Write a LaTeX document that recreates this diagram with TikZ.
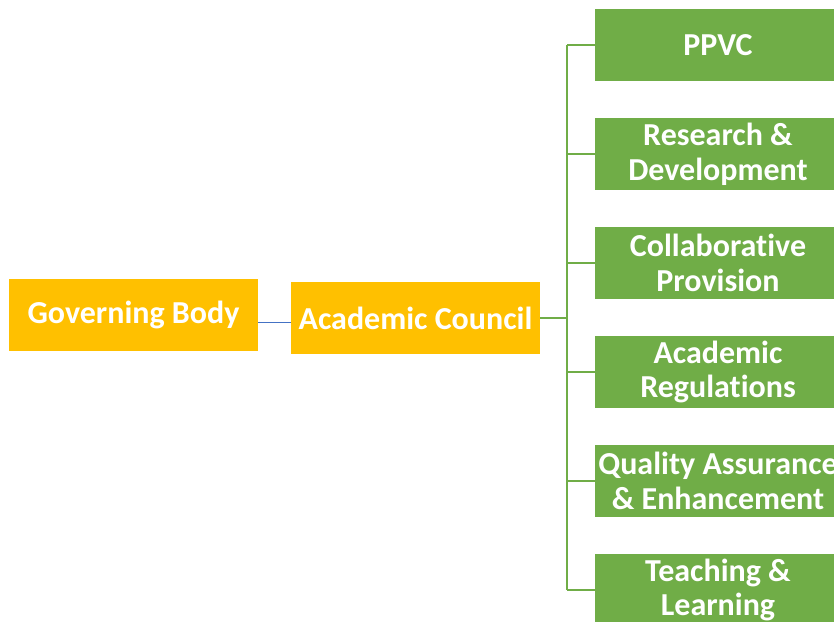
\documentclass[tikz,border=0pt]{standalone}
\usepackage{fontspec}
\setmainfont{Carlito}[Ligatures=NoCommon]
\usetikzlibrary{calc}
\definecolor{boardgold}{HTML}{FFC000}
\definecolor{panelgreen}{HTML}{70AD47}
\definecolor{linkblue}{HTML}{4472C4}
\tikzset{
	boardbox/.style={fill=boardgold, text=white, inner sep=0pt, minimum width=186.75pt, minimum height=54pt, align=center, font=\bfseries\fontsize{24}{26}\selectfont},
	panelbox/.style={fill=panelgreen, text=white, inner sep=0pt, minimum width=184.5pt, minimum height=54pt, align=center, font=\bfseries\fontsize{24}{26}\selectfont},
	branch/.style={draw=panelgreen, line width=2.2pt}
}

\begin{document}
\begin{tikzpicture}[x=0.75pt, y=-0.75pt]
			%%%%% START %%%%%
			
			\useasboundingbox (0, 0) rectangle (834, 621);
			\clip (0, 0) rectangle (834, 621);
			
			\node[boardbox] (gb) at (133.5, 314.5) {Governing Body};
			\node[boardbox] (ac) at (415.5, 318) {Academic Council};
			
			\node[panelbox] (ppvc) at (718, 45) {PPVC};
			\node[panelbox] (rd) at (718, 154) {Research \&\\Development};
			\node[panelbox] (cp) at (718, 263) {Collaborative\\Provision};
			\node[panelbox] (ar) at (718, 372) {Academic\\Regulations};
			\node[panelbox] (qa) at (718, 481) {Quality Assurance\\\& Enhancement};
			\node[panelbox] (tl) at (718, 590) {Teaching \&\\Learning};
			
			\draw[linkblue, line width=0.7pt] ([yshift=-6pt]gb.east) -- ([yshift=-6pt]gb.east -| ac.west);
			
			\coordinate (trunk) at (567, 318);
			\draw[branch] (ac.east) -- (trunk);
			\draw[branch] (trunk |- ppvc.west) -- (trunk |- tl.west);
			\foreach \p in {ppvc, rd, cp, ar, qa, tl}
				\draw[branch] (trunk |- \p.west) -- (\p.west);
			
			%%%%% END %%%%%
\end{tikzpicture}
\end{document}
